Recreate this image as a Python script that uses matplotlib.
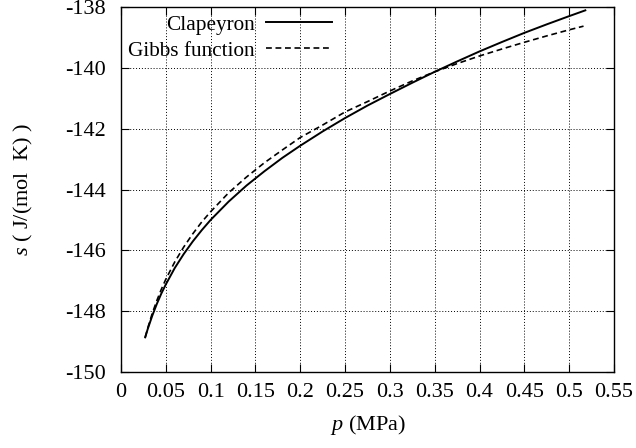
import matplotlib
matplotlib.use("Agg")
import matplotlib.pyplot as plt

# --- data ---
p_clap = [0.027, 0.03, 0.035, 0.04, 0.045, 0.05, 0.06, 0.07, 0.08, 0.09, 0.1, 0.12, 0.14, 0.16, 0.18,
          0.2, 0.225, 0.25, 0.275, 0.3, 0.325, 0.35, 0.375, 0.4, 0.425, 0.45, 0.475, 0.5, 0.518]
s_clap = [-148.86, -148.57, -148.14, -147.76, -147.42, -147.12, -146.58, -146.12, -145.71, -145.34,
          -145.00, -144.40, -143.87, -143.40, -142.96, -142.56, -142.09, -141.65, -141.24, -140.86,
          -140.49, -140.13, -139.79, -139.46, -139.15, -138.85, -138.57, -138.30, -138.11]

p_gibbs = [0.027, 0.03, 0.035, 0.04, 0.045, 0.05, 0.06, 0.07, 0.08, 0.09, 0.1, 0.12, 0.14, 0.16, 0.18,
           0.2, 0.225, 0.25, 0.275, 0.3, 0.325, 0.35, 0.375, 0.4, 0.425, 0.45, 0.475, 0.5, 0.516]
s_gibbs = [-148.86, -148.54, -148.06, -147.65, -147.28, -146.95, -146.38, -145.89, -145.46, -145.07,
           -144.73, -144.11, -143.59, -143.12, -142.70, -142.29, -141.88, -141.45, -141.11, -140.76,
           -140.43, -140.13, -139.86, -139.61, -139.38, -139.16, -138.95, -138.75, -138.63]

x_ticks = [0, 0.05, 0.1, 0.15, 0.2, 0.25, 0.3, 0.35, 0.4, 0.45, 0.5, 0.55]
x_labels = ["0", "0.05", "0.1", "0.15", "0.2", "0.25", "0.3", "0.35", "0.4", "0.45", "0.5", "0.55"]
y_ticks = [-150, -148, -146, -144, -142, -140, -138]
y_labels = ["-150", "-148", "-146", "-144", "-142", "-140", "-138"]

plt.rcParams["font.family"] = ["Liberation Serif", "DejaVu Serif"]
plt.rcParams["mathtext.fontset"] = "custom"
plt.rcParams["mathtext.rm"] = "Liberation Serif"
plt.rcParams["mathtext.it"] = "Liberation Serif:italic"
FS = 16
LFS = 15.3

fig = plt.figure(figsize=(6.36, 4.48), dpi=100)
ax = fig.add_axes([121/636, 1 - 372/448, 493/636, 365/448])

ax.plot(p_clap, s_clap, color="black", lw=1.4, label="Clapeyron")
ax.plot(p_gibbs, s_gibbs, color="black", lw=1.2, dashes=(3.5, 2.2), label="Gibbs function")

ax.set_xlim(0, 0.55)
ax.set_ylim(-150, -138)
ax.set_xticks(x_ticks)
ax.set_xticklabels(x_labels)
ax.set_yticks(y_ticks)
ax.set_yticklabels(y_labels)

ax.grid(True, color="black", linestyle=(0, (1, 2)), linewidth=0.7)
ax.tick_params(direction="in", length=6, width=0.8, top=True, right=True,
               labelsize=FS, pad=8)
ax.tick_params(axis="y", pad=11)
for sp in ax.spines.values():
    sp.set_linewidth(1.0)

ax.set_xlabel(r"$p$ (MPa)", fontsize=FS, labelpad=8)
ax.set_ylabel(r"$s$ ( J/(mol  K) )", fontsize=FS)
ax.yaxis.set_label_coords(-0.175, 0.5)

leg = ax.legend(loc="upper left", bbox_to_anchor=(0.014, 0.978), frameon=False,
                markerfirst=False, fontsize=LFS, handlelength=3.1, handletextpad=0.56,
                labelspacing=0.28, borderpad=0.0, borderaxespad=0.0)

fig.savefig("out.png", dpi=100)
